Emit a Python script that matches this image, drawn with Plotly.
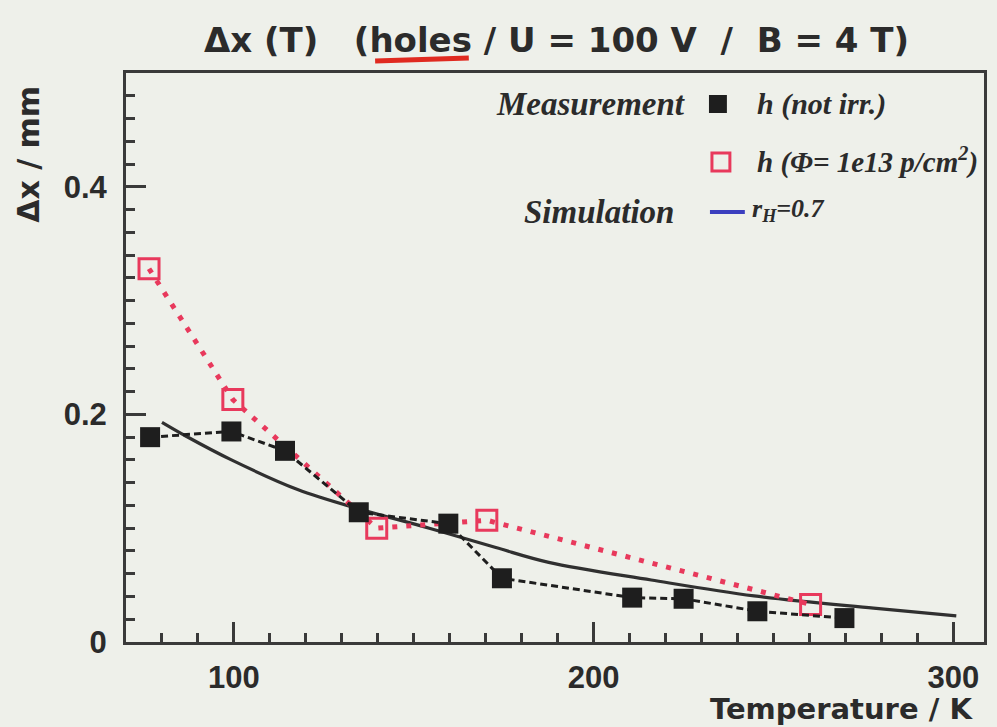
import plotly.graph_objects as go

# ---- data ----
T_unirr = [76.7, 99.3, 114.2, 134.7, 159.6, 174.5, 210.7, 225.0, 245.5, 269.7]
dx_unirr = [0.180, 0.185, 0.168, 0.114, 0.104, 0.056, 0.039, 0.038, 0.027, 0.021]

T_irr = [76.4, 99.7, 139.7, 170.3, 260.3]
dx_irr = [0.328, 0.213, 0.100, 0.107, 0.033]

T_sim = [80.0, 86.6, 99.3, 117.7, 134.7, 154.3, 172.8, 187.5, 216.0, 244.6, 277.8, 300.8]
dx_sim = [0.193, 0.181, 0.160, 0.134, 0.117, 0.100, 0.083, 0.070, 0.0545, 0.0405, 0.0297, 0.023]

x_ticks = [100, 200, 300]
y_ticks = [0, 0.2, 0.4]
y_ticklabels = ["0", "0.2", "0.4"]

# ---- layout geometry ----
W, H = 997, 727
ML, MR, MT, MB = 126, 10, 73, 85
PW, PH = W - ML - MR, H - MT - MB

def px(x):
    return (x - ML) / PW

def py(y):
    return (H - MB - y) / PH

BG = "#eef0ea"
INK = "#2b2b2b"
RED = "#e8395c"
SANS = "Liberation Sans, Arial, sans-serif"
WIDE = "DejaVu Sans, Liberation Sans, sans-serif"
SERIF = "Liberation Serif, Times New Roman, serif"

fig = go.Figure()

fig.add_trace(go.Scatter(
    x=T_sim, y=dx_sim, mode="lines", line=dict(color="#303030", width=3.2, shape="spline"),
    showlegend=False, hoverinfo="skip"))

fig.add_trace(go.Scatter(
    x=T_irr, y=dx_irr, mode="lines+markers",
    line=dict(color=RED, width=5, dash="5px,9px"),
    marker=dict(symbol="square-open", size=20, color=RED, line=dict(width=3, color=RED)),
    showlegend=False))

fig.add_trace(go.Scatter(
    x=T_unirr, y=dx_unirr, mode="lines+markers",
    line=dict(color="#1e1e1e", width=3, dash="7px,4px"),
    marker=dict(symbol="square", size=20, color="#1e1e1e"),
    showlegend=False))

axis_common = dict(
    showline=True, linecolor="#3a3a3a", linewidth=3, mirror=True,
    ticks="inside", ticklen=20, tickwidth=2.5, tickcolor="#3a3a3a",
    showgrid=False, zeroline=False,
    tickfont=dict(family=SANS, size=31, color=INK, weight="bold"),
)

fig.update_xaxes(
    range=[70, 308.5], tickvals=x_ticks, ticklabelstandoff=6,
    minor=dict(ticks="inside", ticklen=9, tickwidth=2.5, tickcolor="#3a3a3a", dtick=10, tick0=0, showgrid=False),
    **axis_common)
fig.update_yaxes(
    range=[0, 0.5], tickvals=y_ticks, ticktext=y_ticklabels, ticklabelstandoff=10,
    minor=dict(ticks="inside", ticklen=9, tickwidth=2.5, tickcolor="#3a3a3a", dtick=0.02, tick0=0, showgrid=False),
    **axis_common)

annotations = [
    dict(text="Δx (T)   (holes / U = 100 V  /  B = 4 T)", x=px(558), y=py(40), xref="paper", yref="paper",
         xanchor="center", yanchor="middle", showarrow=False,
         font=dict(family=WIDE, size=34, color=INK, weight="bold")),
    dict(text="Δx / mm", x=px(28), y=py(84), xref="paper", yref="paper", textangle=-90,
         xanchor="center", yanchor="top", showarrow=False,
         font=dict(family=WIDE, size=30, color=INK, weight="bold")),
    dict(text="Temperature / K", x=px(978), y=py(709), xref="paper", yref="paper",
         xanchor="right", yanchor="middle", showarrow=False,
         font=dict(family=WIDE, size=29, color=INK, weight="bold")),
    dict(text="<b><i>Measurement</i></b>", x=px(689), y=py(104), xref="paper", yref="paper",
         xanchor="right", yanchor="middle", showarrow=False,
         font=dict(family=SERIF, size=33, color=INK)),
    dict(text="<b><i>h (not irr.)</i></b>", x=px(757), y=py(104), xref="paper", yref="paper",
         xanchor="left", yanchor="middle", showarrow=False,
         font=dict(family=SERIF, size=30, color=INK)),
    dict(text="<b><i>h (Φ= 1e13 p/cm<sup>2</sup>)</i></b>", x=px(757), y=py(160), xref="paper", yref="paper",
         xanchor="left", yanchor="middle", showarrow=False,
         font=dict(family=SERIF, size=29, color=INK)),
    dict(text="<b><i>Simulation</i></b>", x=px(678), y=py(212), xref="paper", yref="paper",
         xanchor="right", yanchor="middle", showarrow=False,
         font=dict(family=SERIF, size=33, color=INK)),
    dict(text="<b><i>r<sub>H</sub>=0.7</i></b>", x=px(752), y=py(210), xref="paper", yref="paper",
         xanchor="left", yanchor="middle", showarrow=False,
         font=dict(family=SERIF, size=26, color=INK)),
]

shapes = [
    # legend symbols
    dict(type="rect", xref="paper", yref="paper", x0=px(711), x1=px(729), y0=py(113), y1=py(95),
         fillcolor="#1e1e1e", line=dict(width=0)),
    dict(type="rect", xref="paper", yref="paper", x0=px(714), x1=px(732), y0=py(171), y1=py(153),
         fillcolor="rgba(0,0,0,0)", line=dict(width=3, color=RED)),
    dict(type="line", xref="paper", yref="paper", x0=px(712), x1=px(747), y0=py(212), y1=py(212),
         line=dict(width=4, color="#3b3fbf")),
    # red hand-drawn underline under "holes"
    dict(type="line", xref="paper", yref="paper", x0=px(376), x1=px(470), y0=py(61), y1=py(58),
         line=dict(width=5, color="#e02a20")),
]

fig.update_layout(
    width=W, height=H, autosize=False,
    margin=dict(l=ML, r=MR, t=MT, b=MB),
    paper_bgcolor=BG, plot_bgcolor=BG,
    annotations=annotations, shapes=shapes,
    showlegend=False,
)

fig.write_html("out.html")
